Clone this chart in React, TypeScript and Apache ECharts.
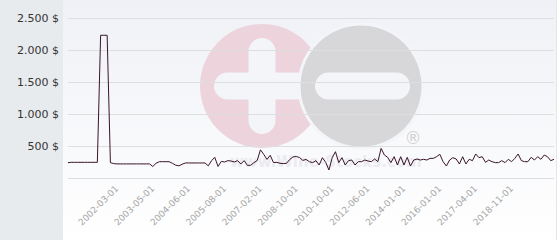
import React, { useEffect, useRef } from "react";
import * as echarts from "echarts";

const dates: string[] = [
  "2000-12-01","2001-01-01","2001-02-01","2001-03-01","2001-04-01","2001-05-01","2001-06-01","2001-07-01","2001-08-01","2001-09-01",
  "2001-10-01","2001-11-01","2001-12-01","2002-01-01","2002-02-01","2002-03-01","2002-04-01","2002-05-01","2002-06-01","2002-08-01",
  "2002-09-01","2002-10-01","2002-12-01","2003-01-01","2003-02-01","2003-04-01","2003-05-01","2003-06-01","2003-07-01","2003-08-01",
  "2003-09-01","2003-10-01","2003-11-01","2004-01-01","2004-02-01","2004-03-01","2004-05-01","2004-06-01","2004-07-01","2004-08-01",
  "2004-09-01","2004-11-01","2004-12-01","2005-01-01","2005-02-01","2005-04-01","2005-05-01","2005-07-01","2005-08-01","2005-10-01",
  "2005-11-01","2006-01-01","2006-03-01","2006-04-01","2006-06-01","2006-07-01","2006-09-01","2006-10-01","2006-12-01","2007-02-01",
  "2007-04-01","2007-06-01","2007-08-01","2007-09-01","2007-11-01","2008-01-01","2008-03-01","2008-05-01","2008-07-01","2008-08-01",
  "2008-10-01","2008-12-01","2009-02-01","2009-04-01","2009-06-01","2009-09-01","2009-11-01","2010-01-01","2010-03-01","2010-05-01",
  "2010-08-01","2010-10-01","2010-12-01","2011-02-01","2011-04-01","2011-06-01","2011-07-01","2011-09-01","2011-11-01","2012-01-01",
  "2012-03-01","2012-04-01","2012-06-01","2012-08-01","2012-09-01","2012-11-01","2013-01-01","2013-03-01","2013-05-01","2013-07-01",
  "2013-08-01","2013-10-01","2013-12-01","2014-01-01","2014-03-01","2014-05-01","2014-07-01","2014-09-01","2014-11-01","2015-01-01",
  "2015-04-01","2015-06-01","2015-08-01","2015-10-01","2016-01-01","2016-02-01","2016-03-01","2016-05-01","2016-06-01","2016-07-01",
  "2016-09-01","2016-10-01","2016-11-01","2017-01-01","2017-02-01","2017-04-01","2017-05-01","2017-07-01","2017-09-01","2017-10-01",
  "2017-12-01","2018-02-01","2018-03-01","2018-05-01","2018-07-01","2018-09-01","2018-11-01","2018-12-01","2019-01-01","2019-03-01",
  "2019-04-01","2019-06-01","2019-07-01","2019-09-01","2019-10-01","2019-12-01","2020-01-01","2020-03-01","2020-04-01","2020-06-01",
];

const prices: number[] = [
  240, 245, 245, 245, 245, 245, 245, 245, 245, 245,
  2230, 2230, 2230, 240, 225, 220, 220, 220, 220, 220,
  220, 220, 220, 220, 220, 220, 180, 230, 255, 255,
  255, 255, 230, 200, 190, 215, 235, 235, 235, 235,
  235, 235, 235, 190, 270, 323, 180, 260, 250, 271,
  265, 250, 271, 219, 271, 198, 198, 240, 271, 440,
  370, 290, 355, 240, 245, 230, 225, 230, 290, 330,
  335, 320, 275, 290, 255, 240, 271, 203, 318, 245,
  125, 318, 411, 240, 318, 203, 271, 281, 203, 255,
  255, 281, 265, 255, 297, 255, 463, 359, 323, 240,
  333, 203, 333, 203, 323, 187, 281, 297, 281, 292,
  281, 307, 307, 333, 370, 255, 187, 281, 318, 297,
  219, 333, 219, 292, 271, 375, 318, 333, 245, 281,
  255, 240, 240, 271, 240, 292, 255, 307, 375, 271,
  255, 255, 323, 281, 333, 292, 359, 333, 271, 292,
];

const labelDates: string[] = [
  "2002-03-01","2003-05-01","2004-06-01","2005-08-01","2007-02-01","2008-10-01",
  "2010-10-01","2012-06-01","2014-01-01","2016-01-01","2017-04-01","2018-11-01",
];

const yTicks = { min: 0, max: 2500, step: 500 };

function fmtPrice(v: number): string {
  if (v === 0) return "";
  const s = String(Math.round(v));
  const withSep = s.replace(/\B(?=(\d{3})+(?!\d))/g, ".");
  return withSep + " $";
}

export default function App() {
  const ref = useRef<HTMLDivElement>(null);
  useEffect(() => {
    if (!ref.current) return;
    const chart = echarts.init(ref.current, undefined, { renderer: "svg" });
    const holeColor = "#f4f5f9";
    chart.setOption({
      animation: false,
      grid: { left: 68, right: 6, top: 18, bottom: 62 },
      graphic: {
        elements: [
          { type: "rect", silent: true, z: -20, shape: { x: 0, y: 0, width: 63, height: 240 }, style: { fill: "#e7ebee" } },
          {
            type: "rect", silent: true, z: -20, shape: { x: 63, y: 0, width: 493, height: 240 },
            style: {
              fill: { type: "linear", x: 0, y: 0, x2: 0, y2: 1, colorStops: [ { offset: 0, color: "#eff1f6" }, { offset: 1, color: "#ffffff" } ] },
            },
          },
          { type: "line", silent: true, z: -19, shape: { x1: 556.5, y1: 0, x2: 556.5, y2: 240 }, style: { stroke: "#e6e6e6", lineWidth: 1 } },
          { type: "circle", silent: true, z: -15, shape: { cx: 262, cy: 86, r: 62 }, style: { fill: "#edd3db" } },
          { type: "rect", silent: true, z: -14, shape: { x: 248.5, y: 38, width: 27, height: 96, r: 13.5 }, style: { fill: holeColor } },
          { type: "rect", silent: true, z: -14, shape: { x: 214, y: 72.5, width: 96, height: 27, r: 13.5 }, style: { fill: holeColor } },
          { type: "circle", silent: true, z: -13, shape: { cx: 361, cy: 86, r: 62 }, style: { fill: "#d7d7d9", stroke: holeColor, lineWidth: 3 } },
          { type: "rect", silent: true, z: -12, shape: { x: 315, y: 72.5, width: 95, height: 27, r: 13.5 }, style: { fill: holeColor } },
          { type: "text", silent: true, z: -12, x: 413, y: 138, style: { text: "®", fill: "#d2d2d4", fontSize: 17, fontFamily: "DejaVu Sans", align: "center", verticalAlign: "middle" } },
          { type: "text", silent: true, z: -12, x: 230, y: 162, style: { text: "www.Wine-Stocks.com", fill: "#ebebf0", fontSize: 15, fontWeight: "bold", fontFamily: "DejaVu Sans", align: "left", verticalAlign: "middle" } },
        ],
      },
      xAxis: {
        type: "category",
        data: dates,
        boundaryGap: false,
        axisLine: { show: false },
        axisTick: { show: false },
        splitLine: { show: false },
        axisLabel: {
          interval: (_i: number, v: string) => labelDates.includes(v),
          rotate: 45,
          color: "#a6a6a6",
          fontSize: 9,
          fontFamily: "DejaVu Sans",
          margin: 9,
        },
      },
      yAxis: {
        type: "value",
        z: 3,
        min: yTicks.min,
        max: yTicks.max,
        interval: yTicks.step,
        axisLine: { show: false },
        axisTick: { show: false },
        splitLine: { lineStyle: { color: "#dedede", width: 1 } },
        axisLabel: {
          formatter: (v: number) => fmtPrice(v),
          color: "#333333",
          fontSize: 11,
          fontFamily: "DejaVu Sans",
          margin: 9,
        },
      },
      series: [
        {
          type: "line",
          data: prices,
          symbol: "none",
          showSymbol: false,
          z: 5,
          lineStyle: { color: "#3a1428", width: 1 },
        },
      ],
    });
    return () => chart.dispose();
  }, []);
  return (
    <div
      ref={ref}
      style={{ position: "absolute", left: 0, top: 0, width: 560, height: 240 }}
    />
  );
}
